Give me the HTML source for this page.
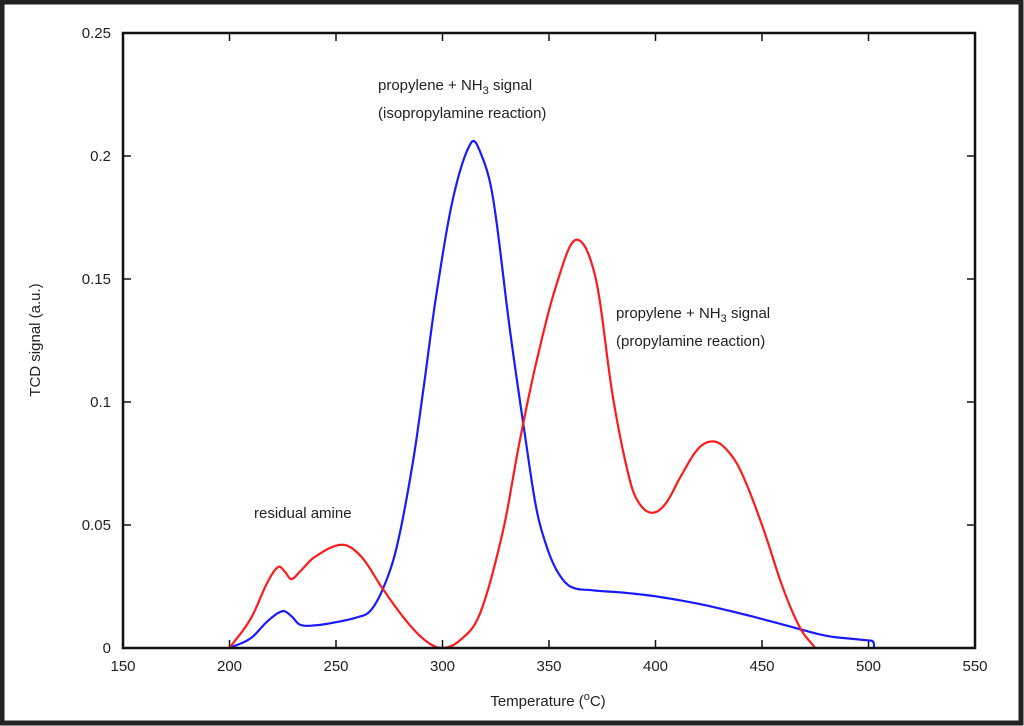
<!DOCTYPE html>
<html><head><meta charset="utf-8"><style>
html,body{margin:0;padding:0;background:#fff}
svg{display:block}
text{font-family:"Liberation Sans",sans-serif;font-size:15px;fill:#222}
</style></head><body>
<svg id="s" width="1024" height="726" viewBox="0 0 1024 726" xmlns="http://www.w3.org/2000/svg">
<rect x="2" y="2" width="1019" height="721" fill="#fff" stroke="#222" stroke-width="5"/>
<g id="ticks" stroke="#111" stroke-width="1.5"></g>
<path id="blue" fill="none" stroke="#1a1aff" stroke-width="2.2"/>
<path id="red" fill="none" stroke="#ff1a1a" stroke-width="2.2"/>
<rect x="123" y="33" width="852" height="615" fill="none" stroke="#111" stroke-width="2.5"/>
<g id="labels"></g>
<text x="378" y="90">propylene + NH<tspan font-size="11" dy="4">3</tspan><tspan dy="-4"> signal</tspan></text>
<text x="378" y="118">(isopropylamine reaction)</text>
<text x="616" y="318">propylene + NH<tspan font-size="11" dy="4">3</tspan><tspan dy="-4"> signal</tspan></text>
<text x="616" y="346">(propylamine reaction)</text>
<text x="254" y="518">residual amine</text>
<text x="548" y="706" text-anchor="middle">Temperature (<tspan font-size="11" dy="-6">o</tspan><tspan dy="6">C)</tspan></text>
<text transform="translate(40,340) rotate(-90)" text-anchor="middle">TCD signal (a.u.)</text>
</svg>
<script>
var X=function(t){return 123+(t-150)*2.13},Y=function(v){return 648-v*2460};
var ns="http://www.w3.org/2000/svg",tk=document.getElementById('ticks'),lb=document.getElementById('labels');
function el(p,tag,a,txt){var e=document.createElementNS(ns,tag);for(var k in a)e.setAttribute(k,a[k]);if(txt)e.textContent=txt;p.appendChild(e);}
for(var t=150;t<=550;t+=50){var x=X(t);el(tk,'line',{x1:x,y1:648,x2:x,y2:640});el(tk,'line',{x1:x,y1:33,x2:x,y2:41});el(lb,'text',{x:x,y:671,'text-anchor':'middle'},''+t);}
var yl=['0','0.05','0.1','0.15','0.2','0.25'];
for(var i=0;i<6;i++){var y=Y(i*0.05);el(tk,'line',{x1:123,y1:y,x2:131,y2:y});el(tk,'line',{x1:975,y1:y,x2:967,y2:y});el(lb,'text',{x:111,y:y+5,'text-anchor':'end'},yl[i]);}
function path(pts){
 var n=pts.length,m=[];
 for(var i=0;i<n;i++){
  if(i==0)m[i]=(pts[1][1]-pts[0][1])/(pts[1][0]-pts[0][0]);
  else if(i==n-1)m[i]=(pts[i][1]-pts[i-1][1])/(pts[i][0]-pts[i-1][0]);
  else m[i]=(pts[i+1][1]-pts[i-1][1])/(pts[i+1][0]-pts[i-1][0]);
 }
 var d='M'+X(pts[0][0]).toFixed(2)+','+Y(pts[0][1]).toFixed(2);
 for(var i=0;i<n-1;i++){
  var x0=pts[i][0],x1=pts[i+1][0],y0=pts[i][1],y1=pts[i+1][1],h=x1-x0;
  for(var k=1;k<=8;k++){var s=k/8,s2=s*s,s3=s2*s;
   var v=(2*s3-3*s2+1)*y0+(s3-2*s2+s)*h*m[i]+(-2*s3+3*s2)*y1+(s3-s2)*h*m[i+1];
   d+='L'+X(x0+s*h).toFixed(2)+','+Y(v).toFixed(2);}
 }
 return d;}
var blue=[[200,0],[210,0.004],[218,0.011],[225,0.015],[229,0.013],[233,0.0095],[240,0.0092],[250,0.0105],[260,0.0125],[266,0.015],[272,0.024],[278.5,0.041],[286,0.075],[291,0.105],[297,0.143],[305,0.183],[313.5,0.2055],[318,0.201],[323.7,0.183],[331.7,0.129],[338.7,0.0866],[344,0.057],[349,0.041],[354,0.031],[360,0.025],[370,0.0235],[385,0.0225],[400,0.021],[420,0.018],[440,0.014],[460,0.0095],[480,0.005],[495,0.0035],[501,0.003]];
var red=[[200,0],[210,0.012],[218,0.027],[223,0.033],[226,0.031],[229,0.028],[233,0.031],[240,0.037],[253,0.042],[262,0.037],[272,0.024],[283,0.011],[292,0.003],[299.6,0],[308,0.003],[317.6,0.014],[328.5,0.048],[336,0.083],[344,0.116],[353.6,0.148],[362.7,0.166],[372,0.15],[380,0.102],[388,0.068],[393,0.058],[399,0.055],[405,0.059],[412,0.07],[420,0.081],[427,0.084],[433,0.081],[440,0.072],[450,0.05],[460,0.024],[468,0.008],[475,0]];
document.getElementById('blue').setAttribute('d',path(blue)+'Q'+X(503).toFixed(1)+','+Y(0.003).toFixed(1)+' '+X(502.5).toFixed(1)+','+Y(0).toFixed(1));
document.getElementById('red').setAttribute('d',path(red));
</script>
</body></html>
